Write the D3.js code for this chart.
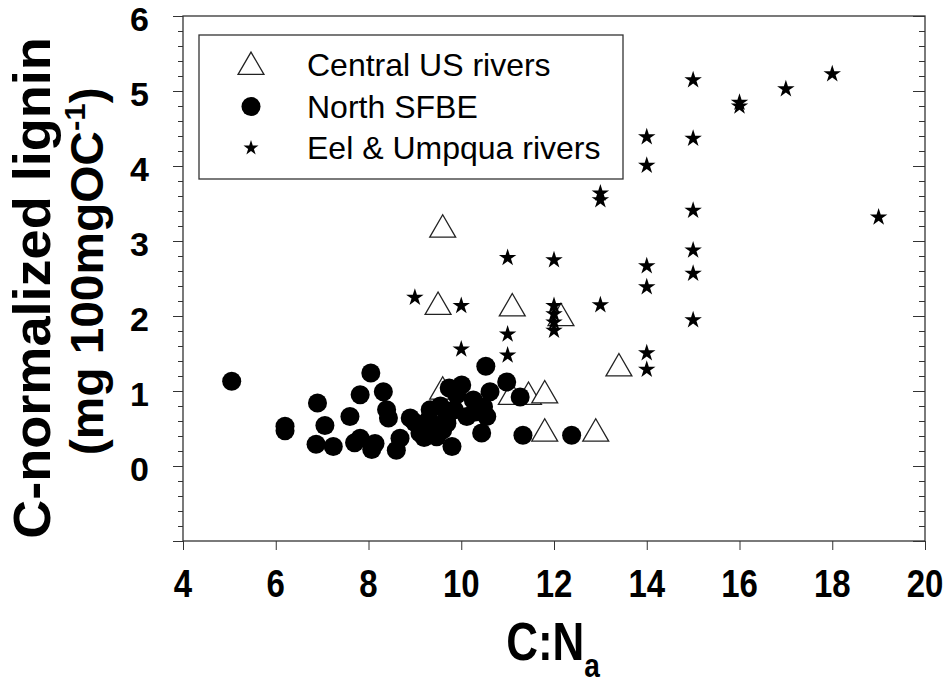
<!DOCTYPE html>
<html lang="en">
<head>
<meta charset="UTF-8">
<title>C-normalized lignin vs C:N</title>
<style>
  body { margin: 0; background: #fff; }
  svg { font-family: Arial, "Liberation Sans", sans-serif; }
  .tick-label { font-weight: bold; fill: #000; }
</style>
</head>
<body>
<svg width="950" height="690"></svg>
<script src="https://d3js.org/d3.v7.min.js"></script>
<script>
// Central US rivers (open triangles)
const centralX = [9.6, 9.5, 11.1, 12.15, 9.6, 11.08, 11.45, 11.8, 11.8, 12.9, 13.4];
const centralY = [3.2, 2.17, 2.15, 2.02, 1.04, 0.97, 0.97, 0.99, 0.48, 0.48, 1.35];

// North SFBE (filled circles)
const sfbeX = [5.05, 6.2, 6.2, 6.9, 7.06, 6.87, 7.24, 7.6, 7.82, 7.7, 8.05, 8.32, 8.39, 8.43,
  7.82, 8.14, 8.07, 8.6, 8.68, 8.9, 9.33, 9.74, 9.11, 9.47, 9.69, 9.0, 9.2, 9.3, 9.4, 9.55,
  9.2, 9.6, 9.85, 10.53, 10.98, 11.27, 11.33, 10.44, 10.62, 10.01, 10.48, 10.26, 9.8, 9.69,
  10.12, 10.55, 12.38, 10.3, 9.9];
const sfbeY = [1.13, 0.53, 0.47, 0.84, 0.54, 0.29, 0.26, 0.66, 0.95, 0.31, 1.24, 0.99, 0.75, 0.64,
  0.37, 0.30, 0.22, 0.21, 0.37, 0.64, 0.75, 1.04, 0.44, 0.39, 0.66, 0.58, 0.5, 0.62, 0.55, 0.8,
  0.38, 0.48, 0.75, 1.33, 1.12, 0.92, 0.41, 0.44, 0.99, 1.08, 0.79, 0.88, 0.26, 0.57,
  0.66, 0.66, 0.41, 0.72, 0.95];

// Eel & Umpqua rivers (stars)
const eelX = [9, 10, 10, 11, 11, 11, 12, 12, 12, 12, 12, 13, 13, 13, 14, 14, 14, 14, 14, 14,
  15, 15, 15, 15, 15, 15, 16, 16, 17, 18, 19];
const eelY = [2.26, 2.15, 1.57, 2.79, 1.77, 1.49, 2.76, 2.15, 2.04, 1.93, 1.82, 3.65, 3.56, 2.16,
  4.4, 4.02, 2.68, 2.4, 1.52, 1.3, 5.16, 4.38, 3.42, 2.89, 2.58, 1.96, 4.86, 4.81, 5.04, 5.24, 3.33];

const xTicks = [4, 6, 8, 10, 12, 14, 16, 18, 20];
const yTicks = [0, 1, 2, 3, 4, 5, 6];
const seriesNames = ["Central US rivers", "North SFBE", "Eel & Umpqua rivers"];

const svg = d3.select("svg");
const pLeft = 183, pRight = 925, pTop = 16, pBottom = 541;

const x = d3.scaleLinear().domain([4, 20]).range([pLeft, pRight]);
const y = d3.scaleLinear().domain([-1, 6]).range([pBottom, pTop]);

const triangle = d3.symbol().type(d3.symbolTriangle).size(290);
const circle = d3.symbol().type(d3.symbolCircle).size(285);
const star = d3.symbol().type(d3.symbolStar).size(95);
const triShift = 3.7; // centroid sits below the triangle's box centre

// frame
svg.append("rect")
  .attr("x", pLeft).attr("y", pTop)
  .attr("width", pRight - pLeft).attr("height", pBottom - pTop)
  .attr("fill", "none").attr("stroke", "#333").attr("stroke-width", 1.3);

// y axis left, outward ticks + minor
const minorY = d3.range(-1, 6.001, 0.2).map(v => +v.toFixed(1));
const majorY = d3.range(-1, 7);
function tickLines(g) {
  g.select(".domain").remove();
  g.selectAll("line").attr("stroke", "#333");
}
svg.append("g")
  .attr("transform", `translate(${pLeft},0)`)
  .call(d3.axisLeft(y).tickValues(minorY).tickSize(5).tickFormat(""))
  .call(tickLines);
svg.append("g")
  .attr("transform", `translate(${pLeft},0)`)
  .call(d3.axisLeft(y).tickValues(majorY).tickSize(10).tickFormat(""))
  .call(tickLines);

// y axis right, inward ticks
svg.append("g")
  .attr("transform", `translate(${pRight},0)`)
  .call(d3.axisRight(y).tickValues(minorY).tickSize(-6).tickFormat(""))
  .call(tickLines);
svg.append("g")
  .attr("transform", `translate(${pRight},0)`)
  .call(d3.axisRight(y).tickValues(majorY).tickSize(-12).tickFormat(""))
  .call(tickLines);

// x axis bottom
svg.append("g")
  .attr("transform", `translate(0,${pBottom})`)
  .call(d3.axisBottom(x).tickValues(xTicks).tickSize(9).tickFormat(""))
  .call(tickLines);

// tick labels
svg.append("g").selectAll("text")
  .data(xTicks).join("text")
  .attr("class", "tick-label")
  .attr("text-anchor", "middle")
  .attr("transform", d => `translate(${x(d)},597) scale(1,1.2)`)
  .style("font-size", "33px")
  .text(d => d);

svg.append("g").selectAll("text")
  .data(yTicks).join("text")
  .attr("class", "tick-label")
  .attr("text-anchor", "end")
  .attr("x", 149)
  .attr("y", d => y(d) + 15)
  .style("font-size", "34px")
  .text(d => d);

// axis titles
const xt = svg.append("text")
  .attr("text-anchor", "middle")
  .attr("transform", "translate(553,660) scale(1,1.2)")
  .style("font-size", "44px").style("font-weight", "bold");
xt.append("tspan").text("C:N");
xt.append("tspan").attr("dy", 14).style("font-size", "28px").text("a");

const yt = svg.append("g").attr("transform", "translate(0,288) rotate(-90)");
yt.append("text")
  .attr("text-anchor", "middle")
  .attr("y", 50)
  .attr("transform", "scale(1.04,1)")
  .style("font-size", "52px").style("font-weight", "bold")
  .text("C-normalized lignin");
const yt2 = yt.append("text")
  .attr("text-anchor", "middle")
  .attr("x", 16)
  .attr("y", 103)
  .attr("transform", "scale(1.04,1)")
  .style("font-size", "46px").style("font-weight", "bold");
yt2.append("tspan").text("(mg 100mgOC");
yt2.append("tspan").attr("dy", -18).style("font-size", "30px").text("-1");
yt2.append("tspan").attr("dy", 18).text(")");

// points
const plot = svg.append("g");
plot.selectAll(".tri")
  .data(d3.zip(centralX, centralY)).join("path")
  .attr("class", "tri")
  .attr("d", triangle)
  .attr("transform", d => `translate(${x(d[0])},${y(d[1]) + triShift})`)
  .attr("fill", "#fff").attr("stroke", "#222").attr("stroke-width", 1.3);

plot.selectAll(".dot")
  .data(d3.zip(sfbeX, sfbeY)).join("path")
  .attr("class", "dot")
  .attr("d", circle)
  .attr("transform", d => `translate(${x(d[0])},${y(d[1])})`)
  .attr("fill", "#000");

plot.selectAll(".star")
  .data(d3.zip(eelX, eelY)).join("path")
  .attr("class", "star")
  .attr("d", star)
  .attr("transform", d => `translate(${x(d[0])},${y(d[1]) + 1})`)
  .attr("fill", "#000");

// legend
const legend = svg.append("g");
legend.append("rect")
  .attr("x", 199).attr("y", 35).attr("width", 424).attr("height", 144)
  .attr("fill", "#fff").attr("stroke", "#333").attr("stroke-width", 1.3);
const symbols = [triangle, circle, d3.symbol().type(d3.symbolStar).size(70)];
const rows = legend.selectAll(".legend")
  .data(seriesNames).join("g")
  .attr("class", "legend")
  .attr("transform", (d, i) => `translate(251,${65 + i * 41.5})`);
rows.append("path")
  .attr("d", (d, i) => symbols[i]())
  .attr("transform", (d, i) => i === 0 ? "translate(0,2)" : null)
  .attr("fill", (d, i) => i === 0 ? "#fff" : "#000")
  .attr("stroke", (d, i) => i === 0 ? "#222" : "none")
  .attr("stroke-width", 1.3);
rows.append("text")
  .attr("x", 56)
  .attr("y", 11)
  .style("font-size", "32px")
  .text(d => d);
</script>
</body>
</html>
